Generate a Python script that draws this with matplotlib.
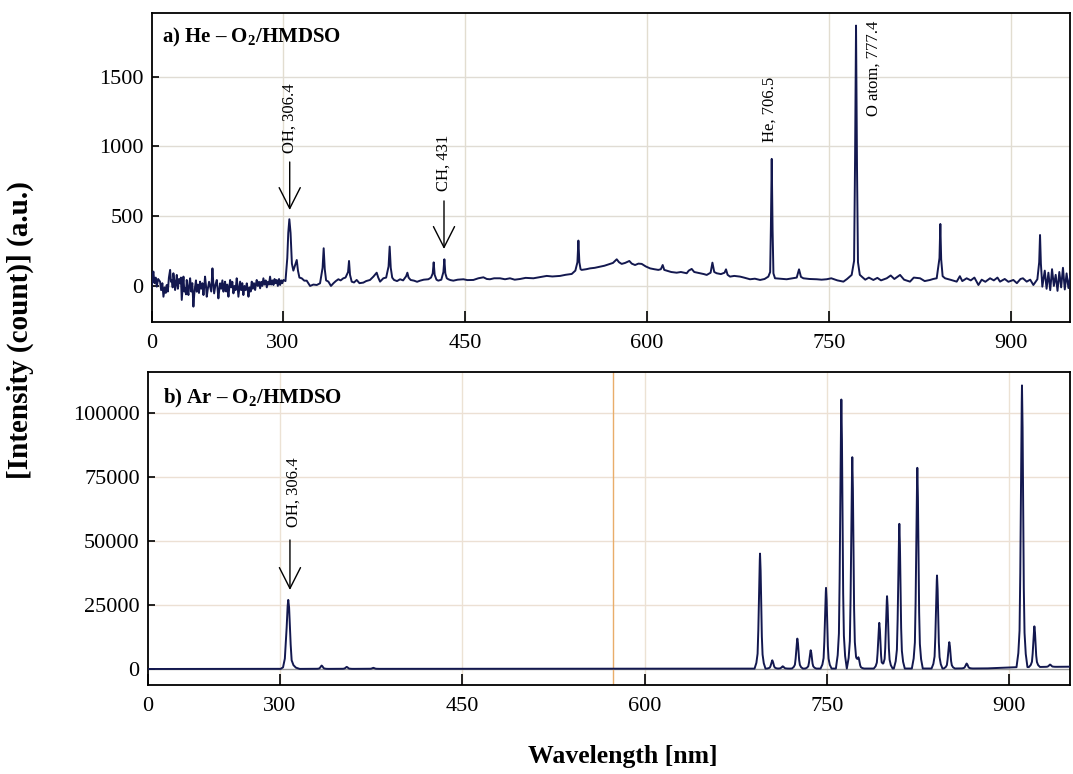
import numpy as np
import matplotlib
matplotlib.use("Agg")
import matplotlib.pyplot as plt

plt.rcParams['font.family'] = ['Liberation Serif', 'DejaVu Serif']
plt.rcParams['mathtext.fontset'] = 'custom'
plt.rcParams['mathtext.rm'] = 'Liberation Serif'
plt.rcParams['mathtext.bf'] = 'Liberation Serif:bold'

# ---------------- data: panel a (He - O2/HMDSO) ----------------
# noisy start of the spectrum (wavelength nm, intensity)
he_noise = [(190.5, 43), (191.6, -20), (192.4, 60), (193.1, 103), (194.0, 20), (195.0, 60), (195.9, -5),
            (197.0, 50), (198.6, 31), (199.5, -30), (200.5, 20), (201.4, -77), (202.5, -10), (203.3, -50),
            (204.1, 7), (205.0, -40), (205.9, 60), (206.9, 115), (207.6, 30), (208.3, 43), (209.0, -10),
            (209.6, 91), (210.3, 40), (211.0, -29), (211.7, 20), (212.4, 79), (213.3, -20), (214.2, 50),
            (215.1, 19), (215.8, 60), (216.5, -100), (217.2, -20), (217.9, 67), (218.6, -40), (219.3, -17),
            (220.0, -60), (220.6, 43), (221.3, -30), (222.0, -65), (222.7, 10), (223.4, 55), (224.3, -40),
            (225.2, 20), (226.1, -148), (226.8, -60), (227.5, -5), (228.2, 40), (228.9, -41), (229.8, 10),
            (230.7, -50), (231.6, 31), (232.5, -20), (233.5, 20), (234.4, -65), (235.0, -10), (235.7, 67),
            (236.4, 10), (237.1, -77), (238.0, -20), (239.0, 30), (239.9, -5), (240.8, -40), (241.8, 126),
            (242.5, 20), (243.2, -53), (244.3, 10), (245.4, 43), (246.0, -20), (246.7, -89), (247.4, -30),
            (248.1, 19), (249.0, -20), (250.0, 40), (250.9, -41), (251.5, 0), (252.2, 31), (253.1, -40),
            (254.0, 10), (255.0, -77), (255.7, -10), (256.4, 43), (257.3, -10), (258.2, 30), (259.1, -53),
            (260.0, 0), (260.9, -30), (261.8, 55), (262.5, 0), (263.2, -77), (263.9, -20), (264.6, 31),
            (265.5, -30), (266.4, 20), (267.3, -65), (268.2, 0), (269.2, -30), (270.1, 19), (270.8, -20),
            (271.5, -77), (272.4, -10), (273.3, -40), (274.2, 31), (275.1, -20), (276.0, 20), (277.0, -29),
            (277.6, 10), (278.3, 43), (279.2, 0), (280.2, 30), (281.1, -17), (282.0, 30), (282.9, 0),
            (283.8, 55), (284.7, 10), (285.7, 40), (286.6, -10), (287.5, 30), (288.4, 10), (289.3, 67),
            (290.2, 10), (291.2, 40), (292.1, 7), (293.0, 50), (293.9, 20), (294.8, 43), (295.7, 0),
            (296.7, 50), (297.6, 7), (298.5, 40), (299.4, 20), (300.3, 43)]

he_wl = [302.0, 303.5, 304.3, 305.2, 306.2, 307.3, 308.5, 309.6, 310.4, 311.3, 312.3, 313.5, 315.4, 317.5,
         319.5, 322.3, 325.0, 327.8, 330.5, 332.6, 333.5, 334.4, 335.5, 337.4, 339.5, 341.5, 343.5, 345.6,
         347.5, 349.7, 351.5, 353.6, 354.4, 355.2, 356.6, 358.5, 360.7, 363.0, 366.2, 368.5, 371.7, 374.5,
         377.2, 378.5, 380.0, 382.7, 385.0, 387.0, 387.9, 388.8, 390.0, 391.5, 394.0, 396.5, 399.0, 401.5,
         402.5, 403.5, 405.2, 408.0, 410.5, 413.0, 416.0, 419.8, 422.0, 423.4, 424.2, 425.0, 426.5, 428.0,
         430.5, 432.2, 433.0, 433.8, 435.0, 436.3, 438.0, 440.4, 444.0, 448.7, 452.0, 456.9, 461.0, 465.2,
         468.0, 470.6, 474.0, 478.9, 483.0, 487.1, 491.0, 495.4, 500.0, 506.4, 511.0, 517.4, 522.0, 528.4,
         533.0, 538.0, 541.0, 542.7, 543.5, 544.3, 545.3, 546.2, 550.0, 553.1, 557.0, 561.3, 565.0, 569.6,
         572.0, 575.1, 577.0, 579.2, 582.0, 585.5, 587.5, 590.2, 593.0, 595.7, 599.0, 602.6, 606.0, 609.4,
         611.5, 613.0, 614.3, 616.3, 620.0, 624.5, 628.0, 632.8, 634.5, 636.9, 639.0, 643.8, 647.0, 649.3,
         652.5, 654.0, 655.5, 657.5, 661.0, 664.0, 665.2, 666.5, 668.5, 672.0, 676.8, 680.0, 685.0, 689.0,
         693.3, 697.0, 700.1, 701.6, 702.2, 702.9, 703.6, 704.3, 705.6, 710.0, 715.2, 720.0, 723.5, 725.4,
         727.0, 729.0, 734.0, 740.0, 744.0, 748.2, 752.0, 757.0, 762.0, 765.0, 768.8, 770.8, 771.6, 772.4,
         773.2, 774.0, 775.5, 777.1, 780.0, 783.0, 786.7, 790.0, 793.0, 797.7, 801.0, 804.0, 808.7, 812.0,
         816.9, 820.0, 825.2, 829.0, 833.4, 836.0, 838.9, 841.2, 841.9, 842.6, 843.8, 845.8, 850.0, 855.4,
         858.0, 860.0, 863.6, 867.0, 870.0, 873.3, 876.0, 879.0, 882.9, 886.0, 889.0, 891.1, 895.0, 898.0,
         902.1, 905.0, 908.0, 910.0, 913.1, 916.0, 918.6, 921.9, 923.4, 924.1, 924.8, 926.0, 928.0, 929.5,
         931.0, 932.5, 934.0, 935.5, 937.0, 938.5, 940.0, 941.5, 943.0, 944.5, 946.0, 947.5, 949.0, 950.5]
he_int = [35, 200, 380, 478, 380, 160, 110, 140, 160, 186, 110, 60, 55, 38,
          38, 0, 10, 7, 19, 130, 270, 120, 40, 31, 0, 19, 35, 48,
          40, 55, 60, 100, 179, 80, 31, 25, 43, 20, 24, 35, 43, 67,
          95, 60, 31, 55, 60, 140, 282, 130, 60, 43, 35, 48, 40, 70,
          95, 60, 43, 38, 30, 38, 45, 48, 60, 90, 169, 80, 45, 38,
          45, 100, 191, 90, 55, 48, 42, 38, 45, 48, 42, 43, 55, 62,
          50, 48, 55, 55, 48, 55, 45, 50, 58, 55, 62, 72, 68, 72,
          80, 86, 110, 170, 325, 170, 120, 115, 120, 126, 130, 138, 145, 158,
          165, 191, 170, 158, 165, 179, 160, 150, 160, 158, 140, 126, 120, 115,
          120, 150, 115, 110, 100, 95, 100, 91, 110, 122, 100, 91, 85, 79,
          95, 167, 100, 91, 85, 95, 119, 80, 67, 72, 67, 60, 48, 52,
          43, 50, 67, 100, 420, 910, 400, 90, 55, 52, 48, 55, 60, 119,
          65, 55, 50, 48, 45, 48, 55, 40, 31, 50, 79, 180, 900, 1865,
          850, 170, 80, 67, 45, 60, 43, 58, 40, 55, 75, 50, 79, 45,
          31, 60, 55, 35, 43, 50, 55, 200, 444, 190, 70, 55, 45, 31,
          70, 35, 55, 40, 60, 7, 45, 30, 55, 40, 60, 31, 50, 30,
          43, 20, 50, 55, 31, 45, 7, 48, 170, 365, 160, -5, 110, -20,
          95, -30, 120, 0, 80, -35, 100, -10, 130, -25, 90, -15, 75, 10]

# ---------------- data: panel b (Ar - O2/HMDSO) ----------------
ar_line_wl = [334.3, 354.9, 376.8, 694.9, 705.0, 713.6, 725.6, 736.6, 749.2, 761.8, 770.8, 775.8,
              793.0, 799.4, 809.5, 824.3, 840.5, 850.6, 864.9, 910.4, 920.6, 933.5]
ar_line_int = [1290, 780, 400, 44920, 3240, 900, 11720, 7160, 31510, 105070, 82550, 4420,
               17840, 28250, 56510, 78380, 36330, 10290, 1950, 110030, 15880, 900]
# line shape (offset in nm, fraction of peak height)
shape_off = [-4.5, -3.0, -2.0, -1.5, -1.0, -0.5, 0.0, 0.5, 1.0, 1.5, 2.0, 3.0, 4.5]
shape_rel = [0.0, 0.05, 0.13, 0.28, 0.55, 0.85, 1.0, 0.85, 0.55, 0.28, 0.13, 0.05, 0.0]
# OH band (306.4 nm) in the Ar spectrum
oh_wl = [300.5, 302.5, 304.0, 305.3, 306.2, 306.8, 307.5, 308.5, 309.5, 311.0, 313.0, 316.0]
oh_int = [0, 600, 4000, 14000, 24000, 26950, 24000, 12000, 3500, 1500, 500, 0]
ar_base_wl = [190, 880, 905, 951]
ar_base_int = [0, 200, 700, 900]

navy = '#13184f'

fig = plt.figure(figsize=(10.73, 7.74), dpi=100)
ax1 = fig.add_axes([0.1417, 0.584, 0.8555, 0.399])
ax2 = fig.add_axes([0.1379, 0.115, 0.8593, 0.4044])

# ---- panel a ----
noise_wl, noise_int = zip(*he_noise)
ax1.plot(list(noise_wl) + he_wl, list(noise_int) + he_int, color=navy, lw=1.4, zorder=3)
ax1.set_xlim(192.0, 948.8)
ax1.set_ylim(-258, 1954)
ax1.set_yticks([0, 500, 1000, 1500])
for v in [300, 450, 600, 750, 900]:
    ax1.axvline(v, color='#e2ddd0', lw=1.0, zorder=1)
for v in [0, 500, 1000, 1500]:
    ax1.axhline(v, color='#e0dcd4', lw=1.0, zorder=1)

ax1.text(0.011, 0.922, r'a) He – O$_\mathbf{2}$/HMDSO', transform=ax1.transAxes,
         fontsize=15, fontweight='bold', va='center', ha='left')

arrow_kw = dict(arrowstyle='->,head_length=0.75,head_width=0.38', color='black', lw=1.0,
                mutation_scale=20, shrinkA=0, shrinkB=0)
ax1.annotate('', xy=(305.5, 544), xytext=(305.5, 888), arrowprops=arrow_kw)
ax1.text(305.8, 953, 'OH, 306.4', rotation=90, ha='center', va='bottom', fontsize=12)
ax1.annotate('', xy=(432.7, 265), xytext=(432.7, 609), arrowprops=arrow_kw)
ax1.text(432.7, 680, 'CH, 431', rotation=90, ha='center', va='bottom', fontsize=12)
ax1.text(701.5, 1031, 'He, 706.5', rotation=90, ha='center', va='bottom', fontsize=12)
ax1.text(787.2, 1898, 'O atom, 777.4', rotation=90, ha='center', va='top', fontsize=12)

# ---- panel b ----
grid_x = np.arange(191.0, 951.0, 0.1)
spec = np.interp(grid_x, ar_base_wl, ar_base_int) + np.interp(grid_x, oh_wl, oh_int)
for c, h in zip(ar_line_wl, ar_line_int):
    spec = spec + h * np.interp(grid_x - c, shape_off, shape_rel, left=0, right=0)
ax2.plot(grid_x, spec, color=navy, lw=1.4, zorder=3)
ax2.set_xlim(191.4, 949.9)
ax2.set_ylim(-6250, 116000)
ax2.set_yticks([0, 25000, 50000, 75000, 100000])
for v in [300, 450, 600, 750, 900]:
    ax2.axvline(v, color='#ece2d4', lw=1.0, zorder=1)
for v in [25000, 50000, 75000, 100000]:
    ax2.axhline(v, color='#ece0d4', lw=1.0, zorder=1)
ax2.axhline(0, color='#9a9a9a', lw=1.0, zorder=1)
ax2.axvline(574.2, color='#e9ad6a', lw=1.0, zorder=2)

ax2.text(0.016, 0.915, r'b) Ar – O$_\mathbf{2}$/HMDSO', transform=ax2.transAxes,
         fontsize=15, fontweight='bold', va='center', ha='left')
ax2.annotate('', xy=(308.2, 30860), xytext=(308.2, 50390), arrowprops=arrow_kw)
ax2.text(310.9, 55460, 'OH, 306.4', rotation=90, ha='center', va='bottom', fontsize=12)

for ax in (ax1, ax2):
    lo = ax.get_xlim()[0]
    ax.set_xticks([lo, 300, 450, 600, 750, 900])
    ax.set_xticklabels(['0', '300', '450', '600', '750', '900'])
    ax.tick_params(axis='both', direction='in', labelsize=16, width=1.2, color='black')
    ax.tick_params(axis='x', length=8, pad=9)
    ax.tick_params(axis='y', length=5, pad=6)
    for s in ax.spines.values():
        s.set_linewidth(1.3)
        s.set_color('black')

fig.text(0.019, 0.574, '[Intensity (count)] (a.u.)', rotation=90, ha='center', va='center',
         fontsize=21, fontweight='bold')
fig.text(0.58, 0.022, 'Wavelength [nm]', ha='center', va='center', fontsize=18.5, fontweight='bold')

fig.savefig('out.png', dpi=100, facecolor='white')
